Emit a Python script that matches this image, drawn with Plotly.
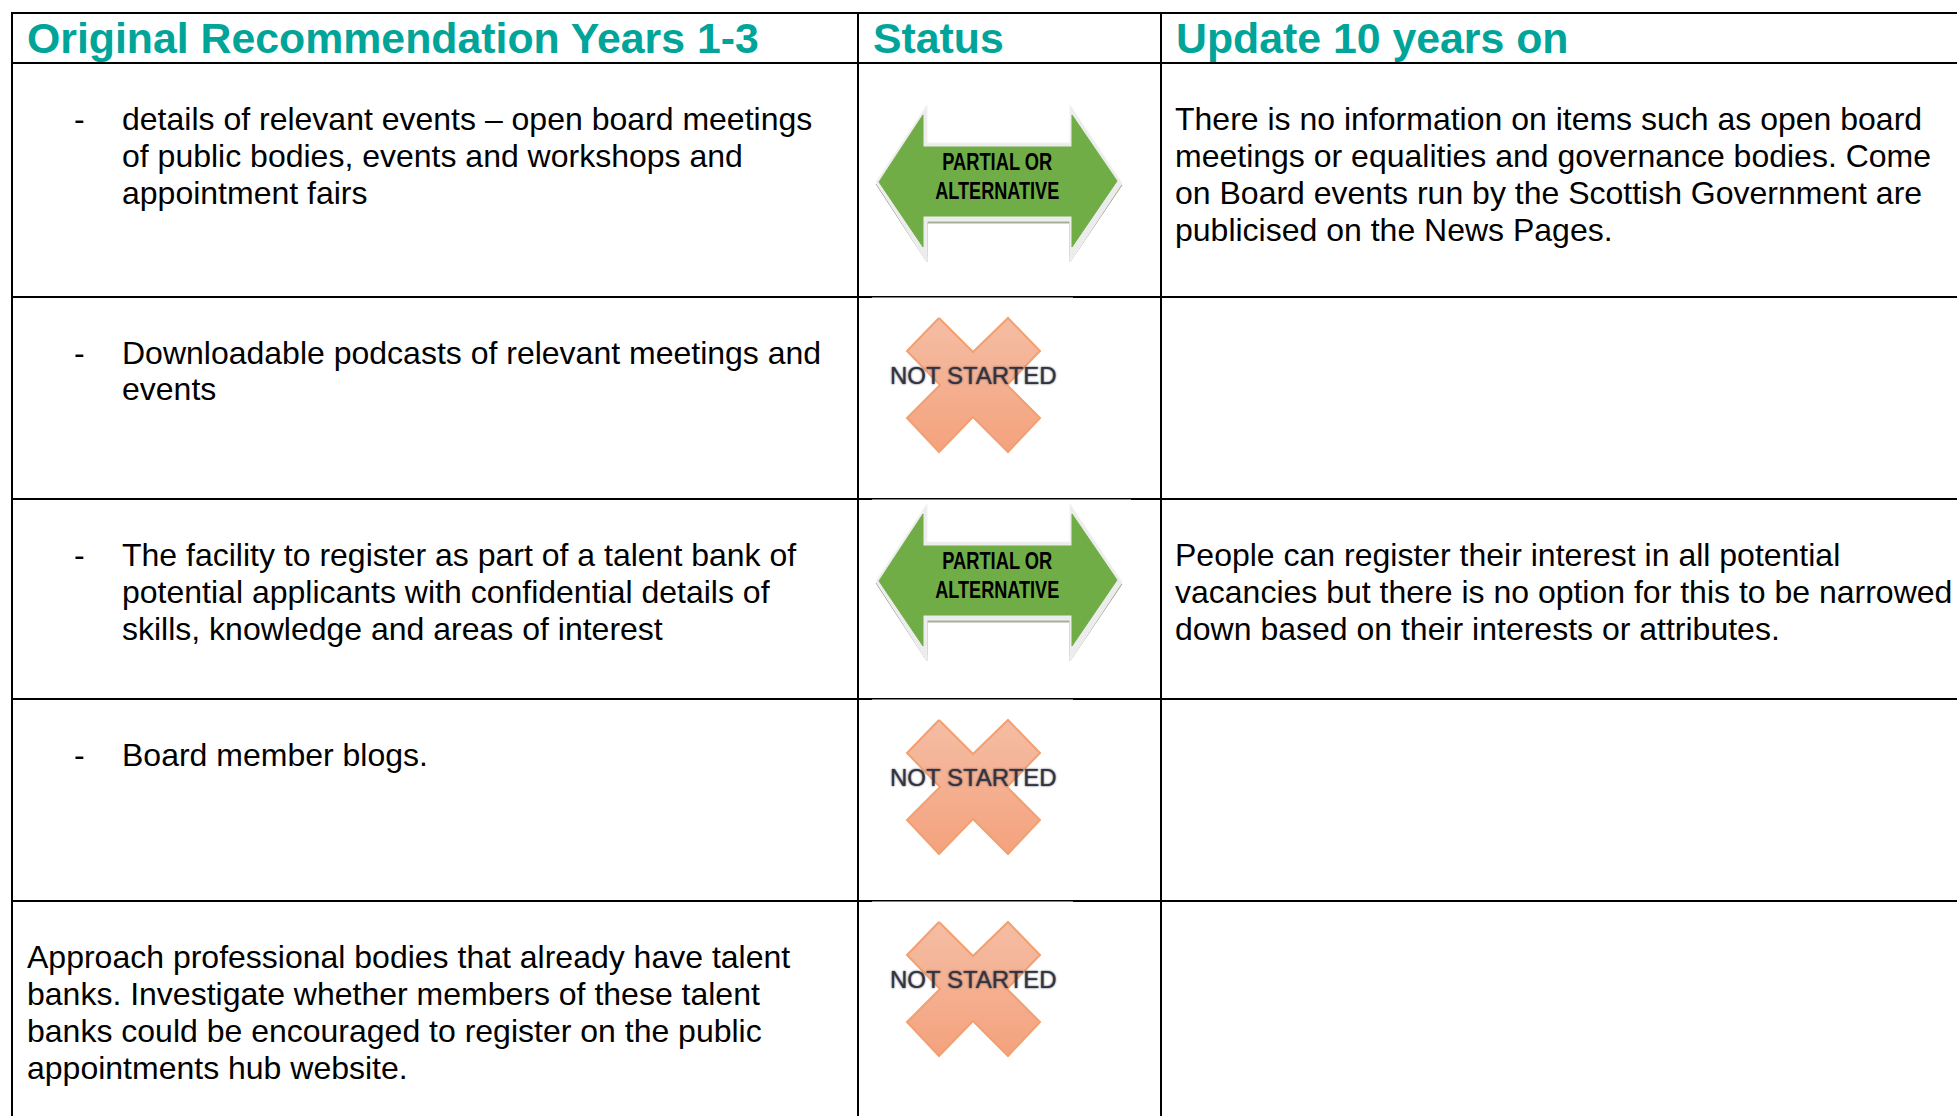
import plotly.graph_objects as go

TEAL = "#00a499"
BODY_FONT = "Liberation Sans"
BODY_SIZE = 32
HEAD_SIZE = 42.8

headers = ["Original Recommendation Years 1-3", "Status", "Update 10 years on"]
header_x = [25.5, 872, 1174.5]
header_y = 38

col_lines = [12, 858, 1161]
row_lines = [13, 63, 297, 499, 699, 901]

left_text = [
    (121, 119, "details of relevant events – open board meetings"),
    (121, 156, "of public bodies, events and workshops and"),
    (121, 193, "appointment fairs"),
    (121, 353, "Downloadable podcasts of relevant meetings and"),
    (121, 389, "events"),
    (121, 555, "The facility to register as part of a talent bank of"),
    (121, 592, "potential applicants with confidential details of"),
    (121, 629, "skills, knowledge and areas of interest"),
    (121, 755, "Board member blogs."),
    (25.5, 957, "Approach professional bodies that already have talent"),
    (25.5, 994, "banks. Investigate whether members of these talent"),
    (25.5, 1031, "banks could be encouraged to register on the public"),
    (25.5, 1068, "appointments hub website."),
]
dash_y = [119, 353, 555, 755]
dash_x = 73

right_text = [
    (1174, 119, "There is no information on items such as open board"),
    (1174, 156, "meetings or equalities and governance bodies. Come"),
    (1174, 193, "on Board events run by the Scottish Government are"),
    (1174, 230, "publicised on the News Pages."),
    (1174, 555, "People can register their interest in all potential"),
    (1174, 592, "vacancies but there is no option for this to be narrowed"),
    (1174, 629, "down based on their interests or attributes."),
]

arrow_offsets = [0, 399]
cross_offsets = [0, 402, 604]

arrow_green_x = [879, 923, 923, 1072, 1072, 1117, 1072, 1072, 923, 923, 879]
arrow_green_y = [182, 115, 147, 147, 115, 181, 247, 216, 216, 247, 182]
arrow_edge_x = [876, 927, 927, 1070, 1070, 1122, 1070, 1070, 927, 927, 876]
arrow_edge_y = [182, 105, 143, 143, 105, 183, 262, 221, 221, 262, 182]
arrow_shadow_x = [876, 927, 927, 1070, 1070, 1122, 1120, 1070, 1070, 927, 927, 925]
arrow_shadow_y = [184, 262, 223, 223, 262, 185, 185, 256, 219, 219, 256, 256]

cross_x = [939, 973, 1008, 1040, 1007, 1040, 1008, 973, 939, 907, 940, 907, 939]
cross_y = [318, 352, 318, 351, 385, 418, 452, 417, 452, 418, 385, 351, 318]

fig = go.Figure()

for off in arrow_offsets:
    fig.add_trace(go.Scatter(
        x=arrow_shadow_x, y=[v + off for v in arrow_shadow_y], mode="lines", fill="toself",
        fillcolor="#a3b096", line=dict(color="#a3b096", width=1), hoverinfo="skip", showlegend=False))
    fig.add_trace(go.Scatter(
        x=arrow_edge_x, y=[v + off for v in arrow_edge_y], mode="lines", fill="toself",
        fillcolor="#ececec", line=dict(color="#f2f2f2", width=1), hoverinfo="skip", showlegend=False))
    fig.add_trace(go.Scatter(
        x=arrow_green_x, y=[v + off for v in arrow_green_y], mode="lines", fill="toself",
        fillcolor="#70ad47", line=dict(color="#70ad47", width=1), hoverinfo="skip", showlegend=False))

for off in cross_offsets:
    fig.add_trace(go.Scatter(
        x=cross_x, y=[v + off for v in cross_y], mode="lines", fill="toself",
        fillgradient=dict(type="vertical", colorscale=[[0, "#f4a27d"], [1, "#f5bda4"]]),
        line=dict(color="#f2a071", width=2), hoverinfo="skip", showlegend=False))

shapes = []
for y in row_lines:
    shapes.append(dict(type="line", x0=11, x1=1957, y0=y, y1=y, layer="below",
                       line=dict(color="#000000", width=2)))
for x in col_lines:
    shapes.append(dict(type="line", x0=x, x1=x, y0=12, y1=1116, layer="below",
                       line=dict(color="#000000", width=2)))
# white image edges trimming the rule above the status icons
for y, x0, x1 in [(297.5, 872, 1073), (499.5, 872, 1131), (699.5, 872, 1073), (901.5, 872, 1073)]:
    shapes.append(dict(type="rect", x0=x0, x1=x1, y0=y, y1=y + 1, layer="below",
                       line=dict(width=0), fillcolor="#ffffff"))

ann = []
def txt(x, y, s, size=BODY_SIZE, color="#000000", family=BODY_FONT, anchor="left", weight="normal", shadow="none"):
    ann.append(dict(x=x, y=y, text=s, xref="x", yref="y", showarrow=False, xanchor=anchor,
                    yanchor="middle", align=anchor, borderpad=0,
                    font=dict(family=family, size=size, color=color, weight=weight, shadow=shadow)))

for x, s in zip(header_x, headers):
    txt(x, header_y, s, size=HEAD_SIZE, color=TEAL, weight="bold")
for x, y, s in left_text + right_text:
    txt(x, y, s)
for y in dash_y:
    txt(dash_x, y, "-")

for off in arrow_offsets:
    txt(997, 161 + off, "PARTIAL OR", size=24, anchor="center", weight="bold")
    txt(997, 190 + off, "ALTERNATIVE", size=24, anchor="center", weight="bold")
for off in cross_offsets:
    txt(973, 375.5 + off, "NOT STARTED", size=24, color="#33333f", anchor="center",
        shadow="0 0 2px rgba(40,40,60,0.9)")

fig.update_layout(
    width=1957, height=1116, margin=dict(l=0, r=0, t=0, b=0),
    paper_bgcolor="#ffffff", plot_bgcolor="#ffffff", showlegend=False,
    xaxis=dict(range=[0, 1957], visible=False, fixedrange=True),
    yaxis=dict(range=[1116, 0], visible=False, fixedrange=True),
    shapes=shapes, annotations=ann,
)
squeeze = """
document.body.style.margin='0';document.body.style.overflow='hidden';
document.querySelectorAll('.annotation-text').forEach(function(t){
  var w = {'PARTIAL OR':110,'ALTERNATIVE':124}[t.textContent];
  if(w){var b=t.getBBox();var cx=b.x+b.width/2;
    t.setAttribute('textLength',w);t.setAttribute('lengthAdjust','spacingAndGlyphs');
    t.setAttribute('text-anchor','middle');t.setAttribute('x',cx);}
});
"""
fig.write_html("out.html", config={"displayModeBar": False}, post_script=squeeze)
